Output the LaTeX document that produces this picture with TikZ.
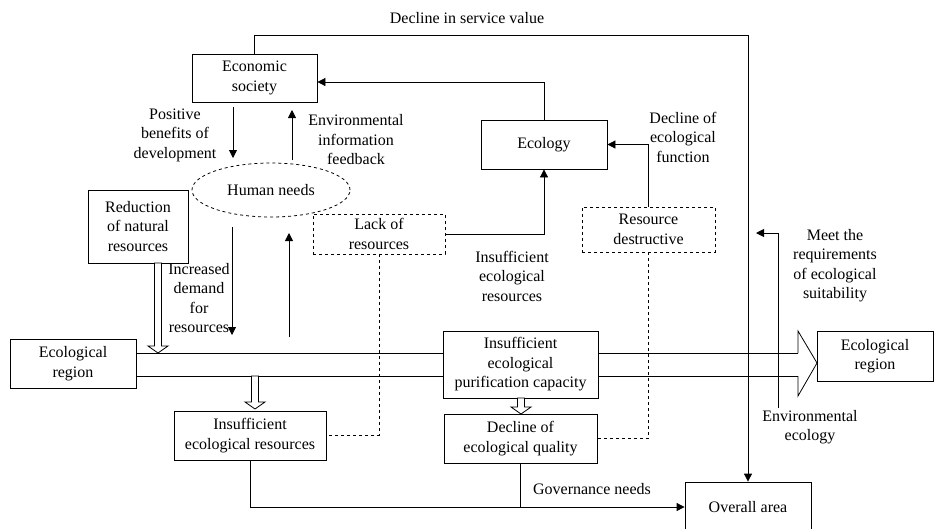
\documentclass[tikz,border=0pt]{standalone}
\usepackage{fontspec}
\setmainfont{Liberation Serif}
\usetikzlibrary{arrows.meta, shapes.geometric}
\tikzset{
    txt/.style={align=center, inner sep=0pt, font=\fontsize{16}{19.5}\selectfont},
    box/.style={txt, draw, line width=0.8pt},
    dashbox/.style={box, dashed},
    flow/.style={line width=0.8pt, -{Triangle[length=8pt, width=8pt]}},
    link/.style={line width=0.8pt},
    dashlink/.style={line width=0.8pt, dashed}
}
% hollow down arrow: x, top y, tip y
\newcommand{\hollowdown}[3]{
    \draw[link, fill=white] ({#1-3.5},#2) -- ({#1+3.5},#2) -- ({#1+3.5},{#3-7})
    -- ({#1+10},{#3-7}) -- (#1,#3) -- ({#1-10},{#3-7}) -- ({#1-3.5},{#3-7}) -- cycle;
}

\begin{document}
\begin{tikzpicture}[x=1pt, y=-1pt]
    \useasboundingbox (0,0) rectangle (934,528);

    % boxes
    \node[box, minimum width=125pt, minimum height=48pt] (econ) at (254.5,78) {Economic\\society};
    \node[box, minimum width=126pt, minimum height=49pt] (ecology) at (544,144.5) {Ecology};
    \node[dashbox, minimum width=133pt, minimum height=45pt] (resdes) at (648.5,229.5) {Resource\\destructive};
    \node[dashbox, minimum width=132pt, minimum height=40pt] (lack) at (379,234) {Lack of\\resources};
    \node[txt, draw, dashed, line width=0.8pt, ellipse, minimum width=158pt, minimum height=54pt] (human) at (271,190) {Human needs};
    \node[box, minimum width=100pt, minimum height=73pt] (reduc) at (138,226.5) {Reduction\\of natural\\resources};
    \node[box, minimum width=126pt, minimum height=49pt] (regL) at (73,363.5) {Ecological\\region};
    \node[box, minimum width=155pt, minimum height=67pt] (purif) at (520.5,364.5) {Insufficient\\ecological\\purification capacity};
    \node[box, minimum width=116pt, minimum height=50pt] (regR) at (875,356) {Ecological\\region};
    \node[box, minimum width=152pt, minimum height=49pt] (insres) at (250,435.5) {Insufficient\\ecological resources};
    \node[box, minimum width=153pt, minimum height=49pt] (declq) at (520.5,438.5) {Decline of\\ecological quality};
    \node[box, minimum width=126pt, minimum height=50pt] (overall) at (748,507) {Overall area};

    % labels
    \node[txt] (lservice) at (467,18) {Decline in service value};
    \node[txt] (lbenefit) at (175,135) {Positive\\benefits of\\development};
    \node[txt] (lfeedback) at (356,140) {Environmental\\information\\feedback};
    \node[txt] (ldemand) at (199,298) {Increased\\demand\\for\\resources};
    \node[txt] (linsuff) at (512,276) {Insufficient\\ecological\\resources};
    \node[txt] (lfunction) at (683,137) {Decline of\\ecological\\function};
    \node[txt] (lmeet) at (835,265.5) {Meet the\\requirements\\of ecological\\suitability};
    \node[txt] (lenveco) at (810,427) {Environmental\\ecology};
    \node[txt] (lgovern) at (592,489) {Governance needs};

    \coordinate (topR) at (748,35);
    \coordinate (pbA) at (233,107);
    \coordinate (pbB) at (233,158);
    \coordinate (fbA) at (292,160);
    \coordinate (fbB) at (292,110);
    \coordinate (dmA) at (232,227);
    \coordinate (dmB) at (232,335);
    \coordinate (upA) at (289,337);
    \coordinate (upB) at (289,233);
    \coordinate (mtA) at (778,408);
    \coordinate (mtB) at (756,233);

    % connectors
    \draw[flow] (econ.north) |- (topR) -- (overall.north);
    \draw[flow] (ecology.north) |- ([yshift=-4pt]econ.east);
    \draw[flow] (resdes.north) |- (ecology.east);
    \draw[flow] (lack.east) -| (ecology.south);
    \draw[dashlink] (lack.south) |- (insres.east);
    \draw[dashlink] (resdes.south) |- (declq.east);
    \draw[flow] (pbA) -- (pbB);
    \draw[flow] (fbA) -- (fbB);
    \draw[flow] (dmA) -- (dmB);
    \draw[flow] (upA) -- (upB);
    \draw[flow] (mtA) |- (mtB);
    \draw[flow] (insres.south) |- (overall.west);
    \draw[link] (declq.south) -- (declq.south |- overall.west);

    % wide band arrow
    \coordinate (bandT) at (0,353);
    \coordinate (bandB) at (0,376);
    \coordinate (headT) at (798,331);
    \coordinate (headB) at (798,396);
    \coordinate (tip) at (817,363);
    \draw[link] (regL.east |- bandT) -- (purif.west |- bandT);
    \draw[link] (regL.east |- bandB) -- (purif.west |- bandB);
    \draw[link] (purif.east |- bandT) -- (headT |- bandT);
    \draw[link] (purif.east |- bandB) -- (headB |- bandB);
    \draw[link, line join=miter] (headT |- bandT) -- (headT) -- (tip) -- (headB) -- (headB |- bandB);

    % hollow arrows
    \hollowdown{158}{263}{353}
    \hollowdown{255}{376}{409}
    \hollowdown{521}{398}{414}

\end{tikzpicture}
\end{document}
